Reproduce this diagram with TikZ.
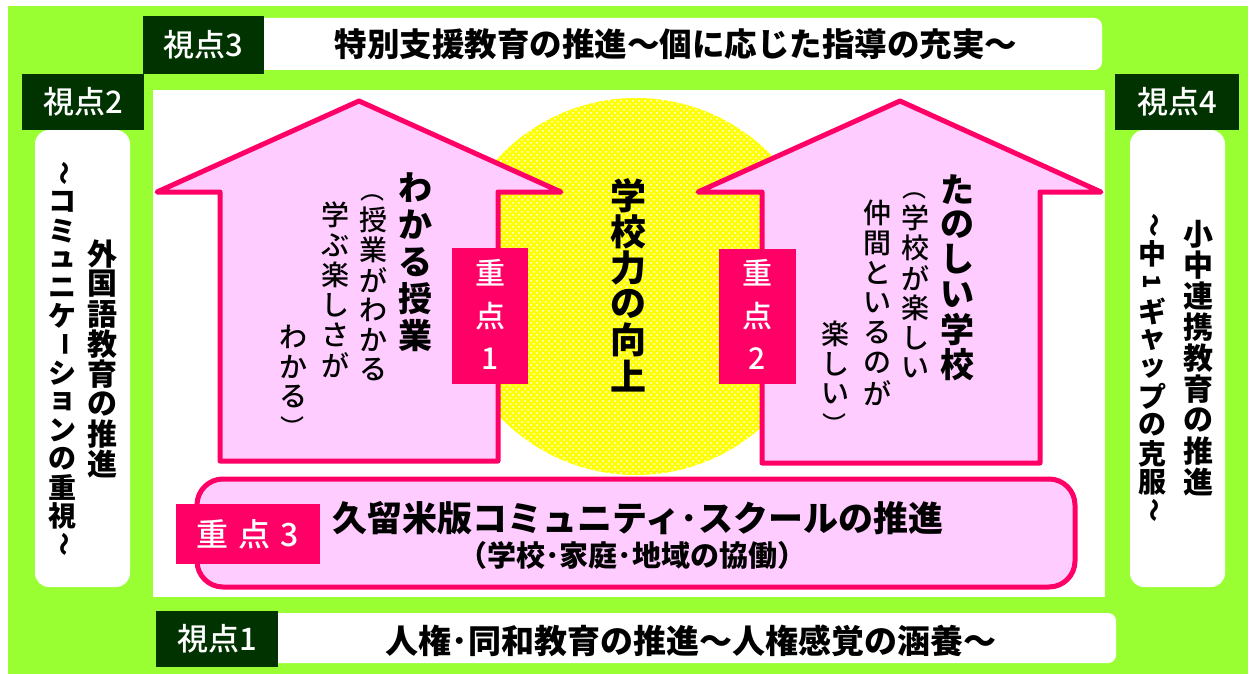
\documentclass[tikz,border=0pt]{standalone}
\usepackage{fontspec}
\usepackage{graphicx}
\usetikzlibrary{patterns}
\newfontfamily\jp{Noto Sans CJK JP}
\IfFontExistsTF{Noto Sans CJK JP Medium}
  {\newfontfamily\jpm{Noto Sans CJK JP Medium}}
  {\newfontfamily\jpm{Noto Sans CJK JP}}
\definecolor{framegreen}{HTML}{99FF33}
\definecolor{vdark}{HTML}{003300}
\definecolor{pinkline}{HTML}{FF0066}
\definecolor{pinkfill}{HTML}{FFCCFF}
\definecolor{sunyellow}{HTML}{FFFF00}
\newcommand\fs[1]{\fontsize{#1}{#1}\selectfont}
\newcommand\vrot[1]{\scalebox{0.85}{\rotatebox[origin=c]{-90}{#1}}}
\ExplSyntaxOn
\cs_new_protected:Npn \vtx_char:n #1
  {
    \str_case:nnF {#1}
      {
        {～}{\vrot{～}}
        {ー}{\vrot{ー}}
        {（}{\vrot{（}}
        {）}{\vrot{）}}
      }
      {#1}
  }
\NewDocumentCommand\vcol{mm}
  {
    \vbox
      {
        \offinterlineskip
        \tl_map_inline:nn {#2}
          {
            \hbox_to_wd:nn {1em}
              { \hss \vbox_to_ht:nn {#1} { \vss \hbox:n { \vtx_char:n {##1} } \vss } \hss }
          }
      }
  }
\ExplSyntaxOff
\begin{document}
\begin{tikzpicture}[x=0.5pt,y=-0.5pt,
  viewpt/.style={fill=vdark,text=white,font=\jpm\fs{15.5pt},inner sep=0pt},
  focus/.style={fill=pinkline,text=white,inner sep=0pt,font=\jpm\fs{15pt}},
  arrowbody/.style={draw=pinkline,fill=pinkfill,line width=2.5pt,line join=round},
  pinkbox/.style={draw=pinkline,fill=pinkfill,line width=2.5pt,rounded corners=13pt},
  whitebar/.style={fill=white,rounded corners=4pt},
  sidebox/.style={fill=white,rounded corners=7pt},
  col/.style={inner sep=0pt},
  sub/.style={inner sep=0pt,font=\jpm\fs{14pt}},
]
\useasboundingbox (0,0) rectangle (1253,674);
\fill[white] (0,0) rectangle (1253,674);
\fill[framegreen] (8,6) rectangle (1248,674);
\fill[white] (153,90) rectangle (1105,597);
% bars and side boxes
\fill[whitebar] (250,18) rectangle (1102,70);
\fill[whitebar] (265,613) rectangle (1116,663);
\fill[sidebox] (35,130) rectangle (130,587);
\fill[sidebox] (1130,130) rectangle (1225,587);
% yellow circle
\fill[sunyellow] (636,286.5) circle[radius=188.5];
\fill[pattern=crosshatch dots,pattern color=white] (636,286.5) circle[radius=188.5];
% arrows
\draw[arrowbody] (220,461) -- (220,192) -- (157,192) -- (359,101) -- (561,192) -- (498,192) -- (498,461) -- cycle;
\draw[arrowbody] (762,463) -- (762,192) -- (698,192) -- (900,101) -- (1101,192) -- (1040,192) -- (1040,463) -- cycle;
% bottom pink box
\draw[pinkbox] (197,479) rectangle (1075,587);
% focus boxes
\node[focus,minimum width=38pt,minimum height=68pt] (f1) at (490,316) {\vcol{21.5pt}{重点1}};
\node[focus,minimum width=38.5pt,minimum height=67.5pt] (f2) at (757.5,316) {\vcol{21.5pt}{重点2}};
\node[focus,minimum width=72pt,minimum height=30pt,font=\jpm\fs{16pt}] (f3) at (248,534) {重\hspace{5pt}点\hspace{5pt}3};
% viewpoint labels
\node[viewpt,minimum width=60.5pt,minimum height=29pt] (v3) at (203.5,45) {視点3};
\node[viewpt,minimum width=61pt,minimum height=28pt] (v2) at (83,102) {視点2};
\node[viewpt,minimum width=62pt,minimum height=28pt] (v4) at (1177,102) {視点4};
\node[viewpt,minimum width=61pt,minimum height=28pt] (v1) at (217,639) {視点1};
% bar texts
\node[inner sep=0pt,font=\jp\bfseries\fs{16.25pt}] (t3) at (676,44) {特別支援教育の推進～個に応じた指導の充実～};
\node[inner sep=0pt,font=\jp\bfseries\fs{16.5pt}] (t1) at (691,641) {人権･同和教育の推進～人権感覚の涵養～};
% community school
\node[inner sep=0pt,font=\jp\bfseries\fs{17.5pt}] (cs1) at (638,518) {久留米版コミュニティ･スクールの推進};
\node[inner sep=0pt,font=\jp\bfseries\fs{14.5pt}] (cs2) at (632,555) {（学校･家庭･地域の協働）};
% left arrow text
\node[col,font=\jp\bfseries\fs{17pt}] (a1) at (415,262) {\vcol{18.5pt}{わかる授業}};
\node[sub] (a2) at (373,280) {\vcol{15pt}{（授業がわかる}};
\node[sub] (a3) at (335,290) {\vcol{15pt}{学ぶ楽しさが}};
\node[sub] (a4) at (293,382) {\vcol{15pt}{わかる）}};
% right arrow text
\node[col,font=\jp\bfseries\fs{17pt}] (b1) at (957,277) {\vcol{17.5pt}{たのしい学校}};
\node[sub] (b2) at (915,278) {\vcol{15pt}{（学校が楽しい}};
\node[sub] (b3) at (877,303) {\vcol{15pt}{仲間といるのが}};
\node[sub] (b4) at (835,379) {\vcol{15pt}{楽しい）}};
% centre
\node[col,font=\jp\bfseries\fs{18pt}] (c) at (628,286) {\vcol{18pt}{学校力の向上}};
% side columns
\node[col,font=\jp\bfseries\fs{15pt}] (l1) at (102,359) {\vcol{15pt}{外国語教育の推進}};
\node[col,font=\jp\bfseries\fs{14pt}] (l2) at (62,359) {\vcol{14.25pt}{～コミュニケーションの重視～}};
\node[col,font=\jp\bfseries\fs{15pt}] (r1) at (1198,358) {\vcol{15.5pt}{小中連携教育の推進}};
\node[col,font=\jp\bfseries\fs{14pt}] (r2) at (1152,368) {\vcol{14.25pt}{～中{\vrot{1}}ギャップの克服～}};
\end{tikzpicture}
\end{document}
